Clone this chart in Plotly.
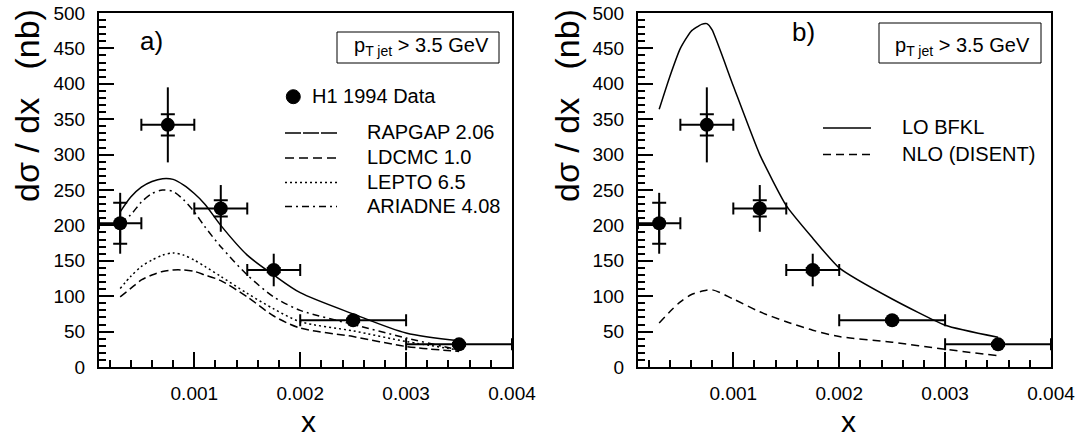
import plotly.graph_objects as go

# ---------------- data ----------------
# H1 1994 data points (same in both panels)
DATA_X = [0.0003, 0.00075, 0.00125, 0.00175, 0.0025, 0.0035]
BIN_LO = [0.0001, 0.0005, 0.0010, 0.0015, 0.0020, 0.0030]
BIN_HI = [0.0005, 0.0010, 0.0015, 0.0020, 0.0030, 0.0040]
DATA_Y = [203, 342, 224, 137, 66, 32]
STAT_ERR = [29, 15, 11.5, 3, 2, 2]
TOT_ERR = [43, 53, 33, 23, 7, 5]

# panel a) Monte Carlo curves
MC_X = [0.0003, 0.0004, 0.0005, 0.0006, 0.0007, 0.0008, 0.0009, 0.0010,
        0.0011, 0.00125, 0.0015, 0.00175, 0.0020, 0.0025, 0.0030, 0.0035]
RAPGAP = [219, 240, 254, 262, 266, 265, 257, 245, 230, 200, 158, 130, 105, 75, 48, 37]
LDCMC = [99, 111, 123, 130, 135, 137, 137, 135, 130, 122, 99, 72, 55, 43, 29, 22]
LEPTO = [111, 128, 142, 151, 158, 161, 158, 151, 142, 128, 104, 82, 64, 51, 36, 24]
ARIADNE = [203, 215, 233, 245, 250, 248, 236, 219, 198, 170, 130, 99, 80, 60, 41, 24]

# panel b) calculations
BFKL_X = [0.0003, 0.0004, 0.0005, 0.0006, 0.0007, 0.00075, 0.0008, 0.0010,
          0.00125, 0.0015, 0.00175, 0.0020, 0.0025, 0.0030, 0.0035]
LO_BFKL = [364, 410, 450, 474, 484, 485, 476, 397, 300, 228, 182, 140, 96, 59, 42]
NLO_X = [0.0003, 0.0004, 0.0005, 0.0006, 0.0007, 0.0008, 0.0010, 0.00125,
         0.0015, 0.00175, 0.0020, 0.0025, 0.0030, 0.0035]
NLO_DISENT = [62, 78, 92, 102, 107, 109, 96, 78, 64, 52, 43, 35, 25, 16]

X_TICKS = [0.001, 0.002, 0.003, 0.004]
X_TICK_TEXT = ["0.001", "0.002", "0.003", "0.004"]
Y_TICKS = [0, 50, 100, 150, 200, 250, 300, 350, 400, 450, 500]
Y_TICK_TEXT = [str(v) for v in Y_TICKS]

LEFT_LEGEND = ["RAPGAP 2.06", "LDCMC 1.0", "LEPTO 6.5", "ARIADNE 4.08"]
RIGHT_LEGEND = ["LO BFKL", "NLO (DISENT)"]

# ---------------- layout helpers ----------------
W, H = 1085, 438
FONT = "Liberation Sans, Arial, sans-serif"


def px(x):
    return x / W


def py(y):
    return 1 - y / H


fig = go.Figure()

err_x_plus = [h - c for h, c in zip(BIN_HI, DATA_X)]
err_x_minus = [c - l for c, l in zip(DATA_X, BIN_LO)]

DASH = {
    "RAPGAP 2.06": "solid",
    "LDCMC 1.0": "8px,4px",
    "LEPTO 6.5": "2px,3px",
    "ARIADNE 4.08": "7px,4px,2px,4px",
    "LO BFKL": "solid",
    "NLO (DISENT)": "8px,5px",
}
LEG_DASH = {
    "RAPGAP 2.06": "16px,2px",
    "LDCMC 1.0": "9px,5px",
    "LEPTO 6.5": "2px,3px",
    "ARIADNE 4.08": "7px,4px,2px,4px",
    "LO BFKL": "solid",
    "NLO (DISENT)": "8px,5px",
}


def add_data(xa, ya):
    # statistical error ticks
    fig.add_trace(go.Scatter(
        x=DATA_X, y=DATA_Y, mode="markers", xaxis=xa, yaxis=ya,
        marker=dict(size=2, color="rgba(0,0,0,0)"),
        error_y=dict(type="data", array=STAT_ERR, width=7, thickness=2, color="black"),
        showlegend=False, hoverinfo="skip"))
    # total errors + bin widths + markers
    fig.add_trace(go.Scatter(
        x=DATA_X, y=DATA_Y, mode="markers", xaxis=xa, yaxis=ya,
        marker=dict(size=14, color="black"),
        error_y=dict(type="data", array=TOT_ERR, width=0, thickness=2, color="black"),
        error_x=dict(type="data", symmetric=False, array=err_x_plus,
                     arrayminus=err_x_minus, width=6, thickness=2, color="black"),
        showlegend=False, name="H1 1994 Data"))


def add_curve(xs, ys, name, xa, ya, smoothing=0.8):
    fig.add_trace(go.Scatter(
        x=xs, y=ys, mode="lines", xaxis=xa, yaxis=ya, name=name,
        line=dict(color="black", width=1.5, dash=DASH[name], shape="spline",
                  smoothing=smoothing),
        showlegend=False))


# panel a)
add_curve(MC_X, RAPGAP, "RAPGAP 2.06", "x", "y")
add_curve(MC_X, LDCMC, "LDCMC 1.0", "x", "y")
add_curve(MC_X, LEPTO, "LEPTO 6.5", "x", "y")
add_curve(MC_X, ARIADNE, "ARIADNE 4.08", "x", "y")
add_data("x", "y")

# panel b)
add_curve(BFKL_X, LO_BFKL, "LO BFKL", "x2", "y2", smoothing=0.5)
add_curve(NLO_X, NLO_DISENT, "NLO (DISENT)", "x2", "y2")
add_data("x2", "y2")


# ---------------- axes ----------------
def xaxis_cfg(left, right, anchor):
    return dict(
        domain=[px(left), px(right)], range=[0.0001, 0.004], anchor=anchor,
        automargin=False,
        tickmode="array", tickvals=X_TICKS, ticktext=X_TICK_TEXT,
        ticks="inside", ticklen=15, tickwidth=2, tickcolor="black",
        minor=dict(tickmode="linear", tick0=0, dtick=0.0002, ticks="inside",
                   ticklen=7, tickwidth=2, tickcolor="black"),
        showline=True, linewidth=2, linecolor="black", mirror=True,
        showgrid=False, zeroline=False,
        tickfont=dict(family=FONT, size=19, color="black"),
        ticklabelstandoff=8)


def yaxis_cfg(anchor):
    return dict(
        domain=[py(367), py(13)], range=[0, 500], anchor=anchor,
        automargin=False,
        tickmode="array", tickvals=Y_TICKS, ticktext=Y_TICK_TEXT,
        ticks="inside", ticklen=15, tickwidth=2, tickcolor="black",
        minor=dict(tickmode="linear", tick0=0, dtick=10, ticks="inside",
                   ticklen=7, tickwidth=2, tickcolor="black"),
        showline=True, linewidth=2, linecolor="black", mirror=True,
        showgrid=False, zeroline=False,
        tickfont=dict(family=FONT, size=19, color="black"),
        ticklabelstandoff=8)


annotations = []
shapes = []


def text(x, y, s, size, xanchor="center", yanchor="middle", angle=0):
    annotations.append(dict(
        x=px(x), y=py(y), xref="paper", yref="paper", text=s, showarrow=False,
        xanchor=xanchor, yanchor=yanchor, textangle=angle,
        font=dict(family=FONT, size=size, color="black")))


# axis titles
Y_TITLE = "dσ / dx   (nb)"
text(27, 106, Y_TITLE, 34, angle=-90)
text(567, 106, Y_TITLE, 34, angle=-90)
text(308, 421, "x", 30)
text(848, 421, "x", 30)

# panel labels
text(151, 41, "a)", 26)
text(803, 32, "b)", 26)

# p_T boxes
shapes.append(dict(type="rect", xref="paper", yref="paper",
                   x0=px(337), x1=px(499), y0=py(32), y1=py(63),
                   line=dict(color="black", width=1)))
shapes.append(dict(type="rect", xref="paper", yref="paper",
                   x0=px(879), x1=px(1041), y0=py(23), y1=py(63),
                   line=dict(color="black", width=1)))
PT_TEXT = "p<sub>T jet</sub> &gt; 3.5 GeV"
text(421, 46, PT_TEXT, 20)
text(962, 46, PT_TEXT, 20)

# legend panel a)
shapes.append(dict(type="circle", xref="paper", yref="paper",
                   x0=px(286.3), x1=px(300.3), y0=py(89.7), y1=py(103.7),
                   fillcolor="black", line=dict(color="black", width=1)))
text(310, 96, "H1 1994 Data", 20, xanchor="left")
for name, yy in zip(LEFT_LEGEND, [133, 158, 182.5, 206.5]):
    shapes.append(dict(type="line", xref="paper", yref="paper",
                       x0=px(285), x1=px(337), y0=py(yy), y1=py(yy),
                       line=dict(color="black", width=1.3, dash=LEG_DASH[name])))
    text(365, yy - 1, name, 20, xanchor="left")

# legend panel b)
for name, yy in zip(RIGHT_LEGEND, [128, 154.5]):
    shapes.append(dict(type="line", xref="paper", yref="paper",
                       x0=px(823), x1=px(871), y0=py(yy), y1=py(yy),
                       line=dict(color="black", width=1.3, dash=LEG_DASH[name])))
    text(900, yy - 1, name, 20, xanchor="left")

fig.update_layout(
    width=W, height=H, margin=dict(l=0, r=0, t=0, b=0),
    paper_bgcolor="white", plot_bgcolor="white",
    showlegend=False,
    xaxis=xaxis_cfg(99, 512, "y"),
    yaxis=yaxis_cfg("x"),
    xaxis2=xaxis_cfg(638, 1051, "y2"),
    yaxis2=yaxis_cfg("x2"),
    annotations=annotations, shapes=shapes,
    font=dict(family=FONT, color="black"),
)

fig.write_html("out.html")
